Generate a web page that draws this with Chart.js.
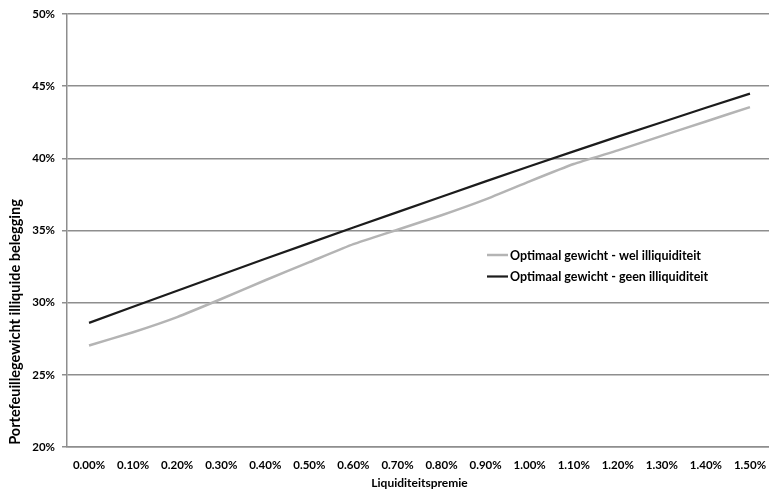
<!DOCTYPE html>
<html>
<head>
<meta charset="utf-8">
<script src="https://cdn.jsdelivr.net/npm/chart.js@4.4.0/dist/chart.umd.min.js"></script>
<style>
  body { margin: 0; overflow: hidden; background: #fff; }
  #wrap { width: 772px; height: 491px; position: relative; }
</style>
</head>
<body>
<div id="wrap"><canvas id="myChart"></canvas></div>
<script>
const premies = ["0.00%", "0.10%", "0.20%", "0.30%", "0.40%", "0.50%", "0.60%", "0.70%",
  "0.80%", "0.90%", "1.00%", "1.10%", "1.20%", "1.30%", "1.40%", "1.50%"];
const welIlliquiditeit = [27.03, 27.95, 29.0, 30.25, 31.55, 32.8, 34.05, 35.05,
  36.05, 37.15, 38.4, 39.6, 40.55, 41.55, 42.55, 43.54];
const geenIlliquiditeit = [28.6, 29.71, 30.82, 31.93, 33.04, 34.12, 35.2, 36.27,
  37.33, 38.4, 39.45, 40.48, 41.5, 42.5, 43.5, 44.48];
const yTitle = "Portefeuillegewicht illiquide belegging";
const xTitle = "Liquiditeitspremie";

const fontFamily = "Lato, 'Open Sans', sans-serif";

// y title sits lower than the centre of the plot, so draw it by hand
const yTitlePlugin = {
  id: "yTitle",
  afterDraw(chart) {
    const ctx = chart.ctx;
    ctx.save();
    ctx.translate(15, 322);
    ctx.rotate(-Math.PI / 2);
    ctx.font = "bold 14.5px " + fontFamily;
    ctx.fillStyle = "#000";
    ctx.textAlign = "center";
    ctx.textBaseline = "middle";
    ctx.fillText(yTitle, 0, 0);
    ctx.restore();
  },
};

// legend inside the plot area, right of centre
const legendPlugin = {
  id: "insideLegend",
  afterDraw(chart) {
    const ctx = chart.ctx;
    ctx.save();
    ctx.font = "bold 12.5px " + fontFamily;
    ctx.textBaseline = "middle";
    chart.data.datasets.forEach((ds, i) => {
      const y = 255 + i * 21.5;
      ctx.strokeStyle = ds.borderColor;
      ctx.lineWidth = ds.borderWidth;
      ctx.beginPath();
      ctx.moveTo(487, y);
      ctx.lineTo(508, y);
      ctx.stroke();
      ctx.fillStyle = "#000";
      ctx.fillText(ds.label, 510, y + 0.5);
    });
    ctx.restore();
  },
};

const ctx = document.getElementById("myChart").getContext("2d");
new Chart(ctx, {
  type: "line",
  data: {
    labels: premies,
    datasets: [
      {
        label: "Optimaal gewicht - wel illiquiditeit",
        data: welIlliquiditeit,
        borderColor: "#b4b4b4",
        borderWidth: 2.5,
        pointRadius: 0,
        tension: 0.15,
      },
      {
        label: "Optimaal gewicht - geen illiquiditeit",
        data: geenIlliquiditeit,
        borderColor: "#1c1c1c",
        borderWidth: 2.2,
        pointRadius: 0,
        tension: 0,
      },
    ],
  },
  options: {
    responsive: true,
    maintainAspectRatio: false,
    animation: false,
    layout: {
      padding: { top: 12, left: 0, right: 0, bottom: 0 },
    },
    plugins: {
      legend: { display: false },
      tooltip: { enabled: false },
    },
    scales: {
      x: {
        offset: true,
        grid: { display: false, offset: true },
        border: { display: true, color: "#8e8e8e", width: 1.5 },
        ticks: {
          color: "#000",
          padding: 3,
          maxRotation: 0,
          autoSkip: false,
          font: { family: fontFamily, size: 11.5, weight: "bold" },
        },
        title: {
          display: true,
          text: xTitle,
          color: "#000",
          padding: { top: 2, bottom: 1 },
          font: { family: fontFamily, size: 12, weight: "bold" },
        },
        afterFit(scale) {
          scale.height = 44;
        },
      },
      y: {
        min: 20,
        max: 50,
        ticks: {
          stepSize: 5,
          color: "#000",
          padding: 7,
          font: { family: fontFamily, size: 11.5, weight: "bold" },
          callback: (v) => v + "%",
        },
        grid: {
          color: "#8e8e8e",
          lineWidth: 1.5,
          tickLength: 5,
        },
        border: { display: true, color: "#8e8e8e", width: 1.5 },
        afterFit(scale) {
          scale.width = 67;
        },
      },
    },
  },
  plugins: [yTitlePlugin, legendPlugin],
});
</script>
</body>
</html>
